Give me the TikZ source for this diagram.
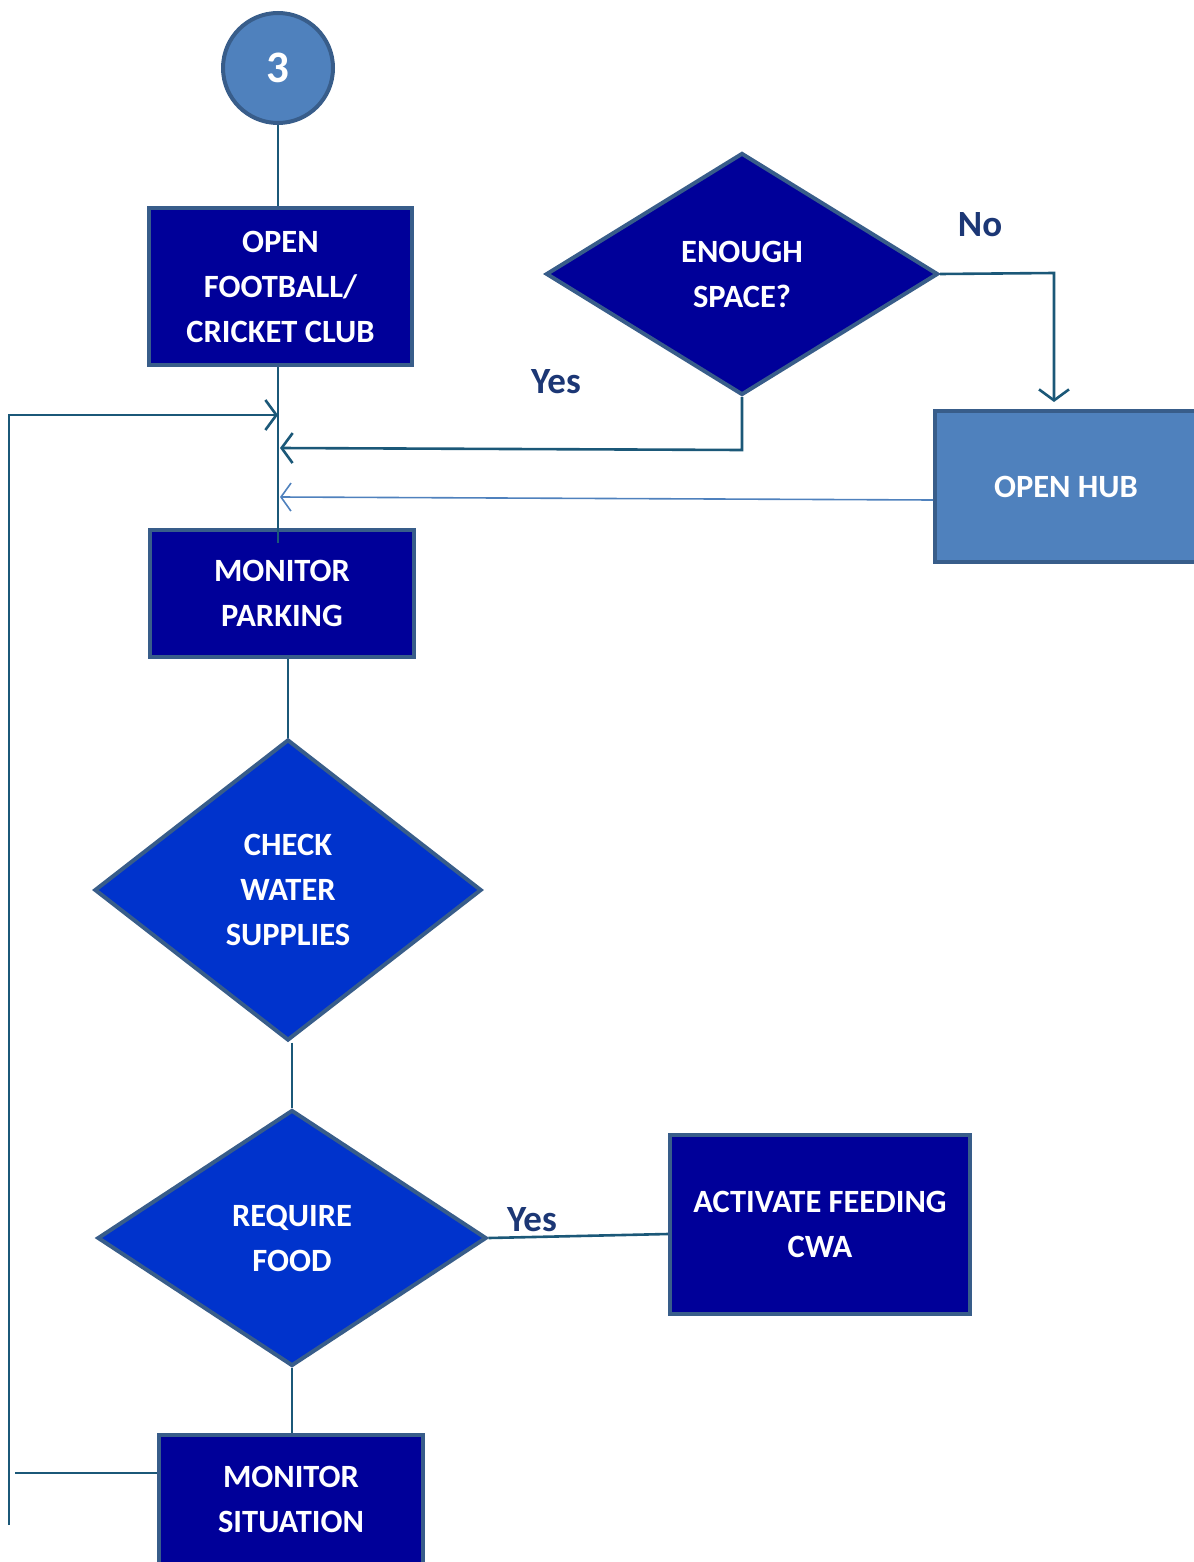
\documentclass[tikz,border=0pt]{standalone}
\usepackage{fontspec}
\setmainfont{Carlito}
\usetikzlibrary{shapes.geometric,arrows.meta,calc}
\definecolor{navy}{HTML}{000099}
\definecolor{brightblue}{HTML}{0033CC}
\definecolor{hubblue}{HTML}{4F81BD}
\definecolor{edgeblue}{HTML}{385D8A}
\definecolor{conncol}{HTML}{1B5878}
\definecolor{labcol}{HTML}{1C3775}
\tikzset{
  boxtext/.style={font=\bfseries\fontsize{32.5}{45}\selectfont, text=white, align=center},
  darkbox/.style={rectangle, draw=edgeblue, line width=4pt, fill=navy, boxtext, inner sep=0pt},
  hubbox/.style={rectangle, draw=edgeblue, line width=4pt, fill=hubblue, boxtext, inner sep=0pt},
  darkdia/.style={diamond, draw=edgeblue, line width=4pt, fill=navy, boxtext, inner sep=0pt, aspect=1},
  brightdia/.style={diamond, draw=edgeblue, line width=4pt, fill=brightblue, boxtext, inner sep=0pt, aspect=1},
  conn/.style={draw=conncol, line width=2.6pt},
  barb/.style={-{Straight Barb[length=11pt,width=30pt,line width=2.6pt]}},
  lbl/.style={font=\bfseries\fontsize{37}{40}\selectfont, text=labcol}
}
\begin{document}
\begin{tikzpicture}[x=1pt,y=-1pt]
\useasboundingbox (0,0) rectangle (1193,1562);
% nodes
\node[circle, draw=edgeblue, line width=4pt, fill=hubblue, minimum size=110pt, inner sep=0pt,
      font=\bfseries\fontsize{45}{50}\selectfont, text=white] (c3) at (278,68) {3};
\node[darkbox, minimum width=263pt, minimum height=157pt] (open) at (280.5,286.5) {OPEN\\FOOTBALL/\\CRICKET CLUB};
\node[darkdia, minimum width=392pt, minimum height=242pt] (es) at (742,274) {ENOUGH\\SPACE?};
\node[hubbox, minimum width=262pt, minimum height=151pt] (hub) at (1066,486.5) {OPEN HUB};
\node[darkbox, minimum width=264pt, minimum height=127pt] (park) at (282,593.5) {MONITOR\\PARKING};
\node[brightdia, minimum width=387pt, minimum height=301pt] (cw) at (288,890) {CHECK\\WATER\\SUPPLIES};
\node[brightdia, minimum width=389pt, minimum height=256pt] (rf) at (292,1238) {REQUIRE\\FOOD};
\node[darkbox, minimum width=300pt, minimum height=179pt] (act) at (820,1224.5) {ACTIVATE FEEDING\\CWA};
\node[darkbox, minimum width=264pt, minimum height=129pt] (sit) at (291,1499.5) {MONITOR\\SITUATION};
% junction coordinates on spine
\coordinate (j1) at (278,415);
\coordinate (j2) at (280,448);
\coordinate (j3) at (280,497);
\coordinate (loopTop) at (9,415);
\coordinate (loopBot) at (9,1525);
\coordinate (sitStub) at (15,1473);
% labels
\node[lbl] (yes1) at (556,382) {Yes};
\node[lbl] (no1) at (980,225) {No};
\node[lbl] (yes2) at (532,1220) {Yes};
% connectors
\draw[conn] (c3.south) -- (c3.south |- open.north);
\draw[conn] (c3.south |- open.south) -- ($(c3.south |- park.north)+(0,15)$);
\draw[conn,barb] (loopBot) -- (loopTop) -- (j1);
\draw[conn,barb] (es.south) -- (es.south |- 0,450) -- (j2);
\draw[conn,barb] (es.east) -- (1054,273) -- (1054,402);
\draw[draw=hubblue, line width=1.6pt, -{Straight Barb[length=10pt,width=28pt,line width=1.6pt]}] (hub.west |- 0,500) -- (j3);
\draw[conn] (cw.north |- park.south) -- (cw.north);
\draw[conn] (rf.north |- cw.south) -- (rf.north);
\draw[conn] (rf.east) -- (act.west |- 0,1234);
\draw[conn] (rf.south) -- (rf.south |- sit.north);
\draw[conn] (sitStub) -- (sitStub -| sit.west);
\end{tikzpicture}
\end{document}
